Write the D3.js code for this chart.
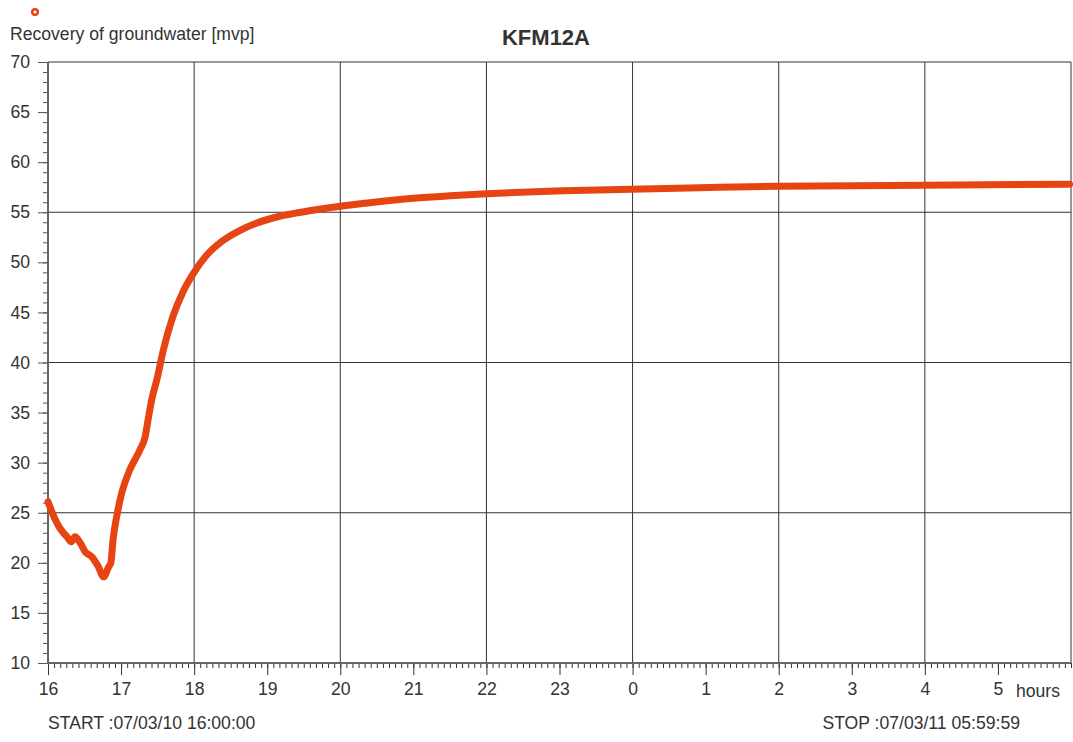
<!DOCTYPE html>
<html><head><meta charset="utf-8">
<script src="https://cdn.jsdelivr.net/npm/d3@7"></script>
<style>body{margin:0;background:#fff}svg{display:block}text{font-family:"Liberation Sans",Arial,sans-serif;fill:#333}</style>
</head><body><svg id="c" width="1073" height="742"></svg>
<script>
// hours elapsed since START 07/03/10 16:00:00
const elapsedHours = [0,0.1,0.16,0.26,0.32,0.37,0.44,0.51,0.6,0.69,0.76,0.83,0.86,0.89,0.95,1.01,1.12,1.26,1.33,1.37,1.42,1.49,1.58,1.71,1.85,1.99,2.17,2.4,2.63,2.85,3.17,3.54,4.0,4.4,5.0,5.5,6.0,7.05,7.98,8.92,9.97,11.97,13.98];
const recovery     = [26.1,24.3,23.5,22.6,22.1,22.6,22.0,21.1,20.6,19.6,18.6,19.6,20.0,22.3,25.0,27.0,29.3,31.3,32.6,34.3,36.3,38.3,41.3,44.6,47.1,48.9,50.7,52.2,53.2,53.9,54.6,55.1,55.6,55.95,56.4,56.65,56.85,57.15,57.3,57.45,57.6,57.7,57.8];
const yTicks = [10,15,20,25,30,35,40,45,50,55,60,65,70];
const yGrid = [25,40,55,70];
const hourTicks = [0,1,2,3,4,5,6,7,8,9,10,11,12,13];
const hourLabels = ["16","17","18","19","20","21","22","23","0","1","2","3","4","5"];
const xGrid = [2,4,6,8,10,12,14];

const svg = d3.select("#c");
const x = d3.scaleLinear().domain([0,14]).range([48,1071]);
const y = d3.scaleLinear().domain([10,70]).range([663,62]);
const col = "#E64513", gridCol = "#333";
const fs = 17.6;

// gridlines
svg.append("g").selectAll("line").data(yGrid).join("line")
  .attr("x1",x(0)).attr("x2",x(14)).attr("y1",d=>y(d)).attr("y2",d=>y(d))
  .attr("stroke",gridCol).attr("stroke-width",1);
svg.append("g").selectAll("line").data(xGrid).join("line")
  .attr("x1",d=>x(d)).attr("x2",d=>x(d)).attr("y1",y(70)).attr("y2",y(10))
  .attr("stroke",gridCol).attr("stroke-width",1);

// y axis
const yAx = svg.append("g").attr("transform",`translate(${x(0)},0)`)
  .call(d3.axisLeft(y).tickValues(d3.range(10,71,1)).tickSize(5).tickFormat(""));
yAx.select(".domain").remove();
yAx.selectAll("line").attr("stroke","#555");
const yMaj = svg.append("g").attr("transform",`translate(${x(0)},0)`)
  .call(d3.axisLeft(y).tickValues(yTicks).tickSize(10).tickPadding(8));
yMaj.select(".domain").remove();
yMaj.selectAll("line").attr("stroke","#555");
yMaj.selectAll("text").attr("font-size",fs).attr("fill","#333").attr("font-family","Liberation Sans, Arial");

// x axis
const xMin = svg.append("g").attr("transform",`translate(0,${y(10)})`)
  .call(d3.axisBottom(x).tickValues(d3.range(0,14*12+1).map(i=>i/12)).tickSize(5).tickFormat(""));
xMin.select(".domain").remove();
xMin.selectAll("line").attr("stroke","#333");
const xMaj = svg.append("g").attr("transform",`translate(0,${y(10)})`)
  .call(d3.axisBottom(x).tickValues(hourTicks).tickSize(12).tickPadding(8).tickFormat((d,i)=>hourLabels[i]));
xMaj.select(".domain").remove();
xMaj.selectAll("line").attr("stroke","#333");
xMaj.selectAll("text").attr("font-size",fs).attr("fill","#333").attr("font-family","Liberation Sans, Arial");

// axis lines
svg.append("line").attr("x1",x(0)).attr("x2",x(0)).attr("y1",y(70)).attr("y2",y(10)+1).attr("stroke","#666").attr("stroke-width",2);
svg.append("line").attr("x1",x(0)).attr("x2",x(14)).attr("y1",y(10)).attr("y2",y(10)).attr("stroke","#666").attr("stroke-width",2);

// data line
const pts = elapsedHours.map((h,i)=>[h,recovery[i]]);
svg.append("path").datum(pts)
  .attr("d",d3.line().x(d=>x(d[0])).y(d=>y(d[1])).curve(d3.curveMonotoneX))
  .attr("fill","none").attr("stroke",col).attr("stroke-width",7)
  .attr("stroke-linejoin","round").attr("stroke-linecap","round");

// legend marker
svg.append("circle").attr("cx",35).attr("cy",12).attr("r",2.8).attr("fill","#fff").attr("stroke",col).attr("stroke-width",2.5);

svg.append("text").attr("x",10).attr("y",40).attr("font-size",fs).text("Recovery of groundwater [mvp]");
svg.append("text").attr("x",546).attr("y",45).attr("text-anchor","middle").attr("font-size",22).attr("font-weight","bold").text("KFM12A");
svg.append("text").attr("x",1016).attr("y",697).attr("font-size",fs).text("hours");
svg.append("text").attr("x",48).attr("y",729).attr("font-size",fs).text("START :07/03/10 16:00:00");
svg.append("text").attr("x",1020).attr("y",729).attr("text-anchor","end").attr("font-size",fs).text("STOP :07/03/11 05:59:59");
</script></body></html>
